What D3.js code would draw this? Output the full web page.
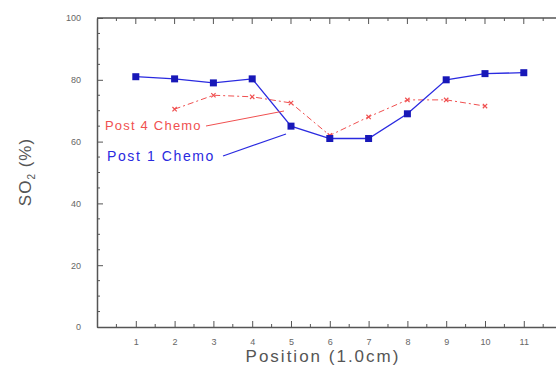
<!DOCTYPE html>
<html>
<head>
	<meta charset="utf-8">
	<title>SO2 by position</title>
	<script src="https://cdn.jsdelivr.net/npm/d3@7"></script>
	<style>
		body { margin: 0; background: #fff; }
		svg { display: block; font-family: Arial, "Liberation Sans", sans-serif; }
		.tick text { fill: #666; font-size: 9px; }
	</style>
</head>
<body>
	<svg id="chart" width="556" height="365"></svg>
	<script>
		// data
		var positions = [1, 2, 3, 4, 5, 6, 7, 8, 9, 10, 11];
		var post1 = [81, 80.3, 79, 80.3, 65, 61, 61, 69, 80, 82, 82.3];
		var post4Pos = [2, 3, 4, 5, 6, 7, 8, 9, 10];
		var post4 = [70.5, 75, 74.5, 72.5, 62, 68, 73.5, 73.5, 71.5];
		var yTicks = [0, 20, 40, 60, 80, 100];
		var xTicks = [1, 2, 3, 4, 5, 6, 7, 8, 9, 10, 11];

		var svg = d3.select('#chart');
		// plot box (don't call these top/left, window.top is taken)
		var plotL = 97, plotR = 556, plotT = 18, plotB = 327;

		var x = d3.scaleLinear().domain([0, 11.83]).range([plotL, plotR]);
		var y = d3.scaleLinear().domain([0, 100]).range([plotB, plotT]);

		var axisColor = '#555';

		// top frame line
		svg.append('line').attr('x1', plotL).attr('x2', plotR).attr('y1', plotT).attr('y2', plotT)
			.attr('stroke', axisColor).attr('stroke-width', 1.5);

		// bottom axis with labels
		var xAxis = svg.append('g').attr('transform', 'translate(0,' + plotB + ')')
			.call(d3.axisBottom(x).tickValues(xTicks).tickSize(-6).tickPadding(12).tickSizeOuter(0));
		xAxis.select('.domain').attr('stroke', axisColor).attr('stroke-width', 1.5);
		xAxis.selectAll('.tick line').attr('stroke', axisColor);

		// minor x ticks (bottom + top)
		var xMinor = d3.range(0.5, 11.8, 1);
		svg.append('g').selectAll('line').data(xMinor).join('line')
			.attr('x1', d => x(d)).attr('x2', d => x(d))
			.attr('y1', plotB).attr('y2', plotB - 3).attr('stroke', axisColor);
		svg.append('g').selectAll('line').data(xMinor.concat(xTicks)).join('line')
			.attr('x1', d => x(d)).attr('x2', d => x(d))
			.attr('y1', plotT).attr('y2', d => plotT + (xTicks.includes(d) ? 6 : 3)).attr('stroke', axisColor);

		// left axis
		var yAxis = svg.append('g').attr('transform', 'translate(' + plotL + ',0)')
			.call(d3.axisLeft(y).tickValues(yTicks).tickSize(-6).tickPadding(16).tickSizeOuter(0));
		yAxis.select('.domain').attr('stroke', axisColor).attr('stroke-width', 1.5);
		yAxis.selectAll('.tick line').attr('stroke', axisColor);
		svg.append('g').selectAll('line').data(d3.range(5, 100, 5).filter(d => d % 20)).join('line')
			.attr('x1', plotL).attr('x2', plotL + 3)
			.attr('y1', d => y(d)).attr('y2', d => y(d)).attr('stroke', axisColor);

		// axis titles
		svg.append('text').attr('x', 323).attr('y', 362).attr('text-anchor', 'middle')
			.attr('font-size', 17).attr('fill', '#555').attr('letter-spacing', 2)
			.text('Position (1.0cm)');
		var yt = svg.append('text').attr('transform', 'translate(31,172) rotate(-90)')
			.attr('text-anchor', 'middle').attr('font-size', 17).attr('fill', '#555')
			.attr('letter-spacing', 1);
		yt.append('tspan').text('SO');
		yt.append('tspan').attr('font-size', 10).attr('dy', 4).text('2');
		yt.append('tspan').attr('dy', -4).text(' (%)');

		// Post 4 Chemo (red, dash-dot)
		var red = '#f05050';
		var redData = post4Pos.map((p, i) => [p, post4[i]]);
		svg.append('path').datum(redData)
			.attr('d', d3.line().x(d => x(d[0])).y(d => y(d[1])))
			.attr('fill', 'none').attr('stroke', red).attr('stroke-width', 1)
			.attr('stroke-dasharray', '6,3,2,3');
		svg.append('g').selectAll('path').data(redData).join('path')
			.attr('transform', d => 'translate(' + x(d[0]) + ',' + y(d[1]) + ')')
			.attr('d', d3.symbol(d3.symbolX, 14))
			.attr('fill', 'none').attr('stroke', red).attr('stroke-width', 1.2);

		// Post 1 Chemo (blue, solid with squares)
		var blue = '#2a2ae0';
		var blueData = positions.map((p, i) => [p, post1[i]]);
		svg.append('path').datum(blueData)
			.attr('d', d3.line().x(d => x(d[0])).y(d => y(d[1])))
			.attr('fill', 'none').attr('stroke', blue).attr('stroke-width', 1.3);
		svg.append('g').selectAll('rect').data(blueData).join('rect')
			.attr('x', d => x(d[0]) - 3.5).attr('y', d => y(d[1]) - 3.5)
			.attr('width', 7).attr('height', 7).attr('fill', '#1818b8');

		// labels with pointer lines
		svg.append('text').attr('x', 105).attr('y', 130).attr('font-size', 13)
			.attr('fill', red).attr('letter-spacing', 1.2).text('Post 4 Chemo');
		svg.append('line').attr('x1', 206).attr('y1', 126).attr('x2', 284).attr('y2', 111)
			.attr('stroke', red).attr('stroke-width', 1);
		svg.append('text').attr('x', 107).attr('y', 161).attr('font-size', 14)
			.attr('fill', blue).attr('letter-spacing', 1.6).text('Post 1 Chemo');
		svg.append('line').attr('x1', 223).attr('y1', 156).attr('x2', 286).attr('y2', 134)
			.attr('stroke', blue).attr('stroke-width', 1.2);
	</script>
</body>
</html>
